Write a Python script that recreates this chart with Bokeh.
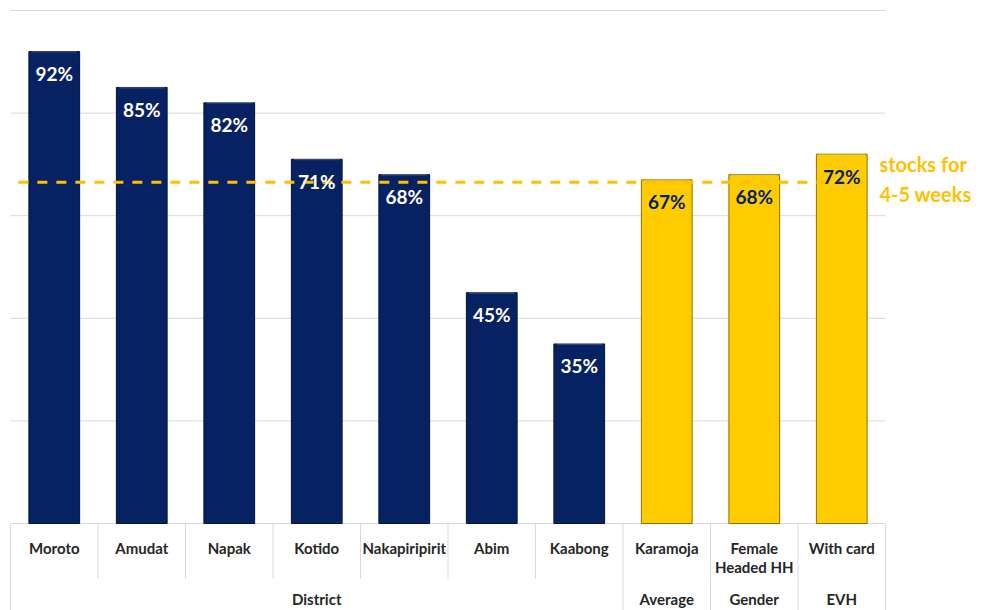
from bokeh.plotting import figure
from bokeh.models import Range1d, ColumnDataSource
from bokeh.core.properties import value
from bokeh.embed import file_html
from bokeh.resources import INLINE

# ---------------- data ----------------
categories = ["Moroto", "Amudat", "Napak", "Kotido", "Nakapiripirit", "Abim",
              "Kaabong", "Karamoja", "Female\nHeaded HH", "With card"]
values = [92, 85, 82, 71, 68, 45, 35, 67, 68, 72]
groups = ["District", "Average", "Gender", "EVH"]
group_sizes = [7, 1, 1, 1]
threshold = 66.5
threshold_label = ["stocks for", "4-5 weeks"]
grid_ticks = [0, 20, 40, 60, 80, 100]

# ---------------- styling ----------------
W, H = 987, 610
CAT_PX = 87.5          # pixels per category
X0_PX = 10             # left edge of first category in canvas px
PPU = 5.13             # pixels per percent
ZERO_PX = 523          # canvas y of 0%
FONT = "Lato"
NAVY = "#072262"
NAVY_EDGE = "#031240"
YELLOW = "#FFCC00"
YELLOW_EDGE = "#8C7000"
ORANGE = "#FFC000"
GRID = "#D9D9D9"
TXT = "#262626"

def ypx(px):
    """convert a canvas pixel distance below zero line to data units"""
    return -px / PPU

p = figure(width=W, height=H,
           x_range=Range1d(-X0_PX / CAT_PX, (W - X0_PX) / CAT_PX),
           y_range=Range1d(-(H - ZERO_PX) / PPU, ZERO_PX / PPU),
           output_backend="svg", toolbar_location=None,
           x_axis_location=None, y_axis_location=None, min_border=0,
           tools="")
p.grid.visible = False
p.outline_line_color = None
p.background_fill_color = "white"
p.border_fill_color = "white"

n = len(categories)
xs = [i + 0.5 for i in range(n)]

# group membership for colours
grp_of = []
for g, s in zip(groups, group_sizes):
    grp_of += [g] * s
fills = [NAVY if g == "District" else YELLOW for g in grp_of]
edges = [NAVY_EDGE if g == "District" else YELLOW_EDGE for g in grp_of]
lbl_colors = ["white" if g == "District" else NAVY for g in grp_of]

# gridlines
p.segment(x0=[0] * len(grid_ticks), y0=grid_ticks, x1=[n] * len(grid_ticks),
          y1=grid_ticks, line_color=GRID, line_width=1)

# bars
src = ColumnDataSource(dict(x=xs, top=values, fill=fills, edge=edges,
                            lc=lbl_colors,
                            lbl=[f"{v}%" for v in values]))
p.vbar(x="x", top="top", bottom=0, width=0.58, fill_color="fill",
       line_color="edge", line_width=1, source=src)
# top bevel highlight
p.rect(x="x", y="top", width=0.52, height=2, height_units="screen",
       fill_color="white", fill_alpha=0.18, line_color=None, source=src)

# threshold dashed line
p.segment(x0=[0.09], y0=[threshold], x1=[9.8], y1=[threshold],
          line_color=ORANGE, line_width=3, line_dash="10 9")

# bar value labels
p.text(x="x", y="top", text="lbl", text_color="lc", source=src,
       text_font=value(FONT), text_font_style="bold", text_font_size="19px",
       text_align="center", text_baseline="middle", y_offset=22)

# threshold annotation text
p.text(x=[9.93] * 2, y=[threshold, threshold],
       text=threshold_label, y_offset=[-18, 12],
       text_color=ORANGE, text_font=value(FONT), text_font_style="bold",
       text_font_size="20px", text_align="left", text_baseline="middle")

# category table lines
row1_bottom = ypx(55)
bottom = p.y_range.start - 1
p.segment(x0=list(range(n + 1)), y0=[0] * (n + 1), x1=list(range(n + 1)),
          y1=[row1_bottom] * (n + 1), line_color=GRID, line_width=1)
bounds = [0]
for s in group_sizes:
    bounds.append(bounds[-1] + s)
p.segment(x0=bounds, y0=[row1_bottom] * len(bounds), x1=bounds,
          y1=[bottom] * len(bounds), line_color=GRID, line_width=1)

# category labels (row 1), multi-line split
lx, ly, lt = [], [], []
for i, c in enumerate(categories):
    for j, part in enumerate(c.split("\n")):
        lx.append(xs[i])
        ly.append(ypx(24 + 19.5 * j))
        lt.append(part)
p.text(x=lx, y=ly, text=lt, text_color=TXT, text_font=value(FONT),
       text_font_style="bold", text_font_size="15px", text_align="center",
       text_baseline="middle")

# group labels (row 2)
gx = [(bounds[k] + bounds[k + 1]) / 2 for k in range(len(groups))]
p.text(x=gx, y=[ypx(75)] * len(groups), text=groups, text_color=TXT,
       text_font=value(FONT), text_font_style="bold", text_font_size="15px",
       text_align="center", text_baseline="middle")

open("out.html", "w").write(file_html(p, INLINE))
